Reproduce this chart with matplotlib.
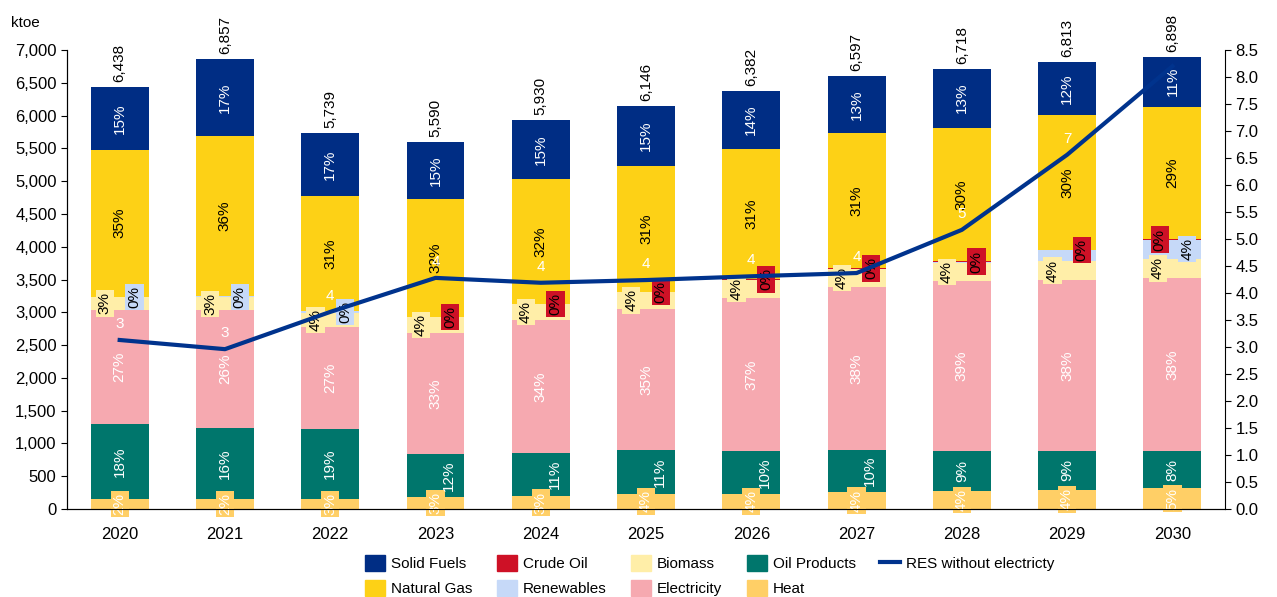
import matplotlib.pyplot as plt
from matplotlib.patches import Patch
from matplotlib.lines import Line2D
import numpy as np

plt.rcParams['font.family'] = ['Liberation Sans', 'DejaVu Sans']
plt.rcParams['font.size'] = 11

years = [2020, 2021, 2022, 2023, 2024, 2025, 2026, 2027, 2028, 2029, 2030]

# ktoe, stacked from bottom to top
heat = [150, 150, 150, 180, 198, 229, 229, 259, 275, 290, 317]
oil_products = [1150, 1090, 1070, 660, 656, 670, 655, 641, 610, 600, 566]
electricity = [1740, 1790, 1560, 1845, 2028, 2151, 2334, 2486, 2592, 2602, 2642]
biomass = [190, 200, 215, 240, 244, 260, 280, 280, 275, 290, 290]
renewables = [10, 15, 20, 0, 0, 0, 0, 0, 20, 168, 290]
crude_oil = [0, 0, 0, 5, 5, 5, 5, 5, 5, 5, 7]
natural_gas = [2240, 2440, 1760, 1800, 1900, 1920, 1990, 2060, 2040, 2054, 2021]
solid_fuels = [958, 1172, 964, 860, 899, 911, 889, 866, 901, 804, 765]

# RES without electricity (right axis)
res_no_elec = [3.13, 2.96, 3.65, 4.28, 4.19, 4.24, 4.31, 4.37, 5.17, 6.56, 8.2]

series = [
    ('Heat', heat, '#FFCF66', 'white'),
    ('Oil Products', oil_products, '#00766C', 'white'),
    ('Electricity', electricity, '#F6A9B0', 'white'),
    ('Biomass', biomass, '#FFEEA8', 'black'),
    ('Renewables', renewables, '#C6D9F8', 'black'),
    ('Crude Oil', crude_oil, '#CE1126', 'black'),
    ('Natural Gas', natural_gas, '#FDD116', 'black'),
    ('Solid Fuels', solid_fuels, '#002D84', 'white'),
]
hidden = {('Renewables', 2028), ('Renewables', 2029)}

fig = plt.figure(figsize=(12.77, 5.97), dpi=100)
ax = fig.add_axes([0.0525, 0.1474, 0.9068, 0.7688])
ax2 = ax.twinx()

x = np.arange(len(years))
totals = np.sum([s[1] for s in series], axis=0)
bottom = np.zeros(len(years))
colors = {}
for name, vals, col, tcol in series:
    vals = np.array(vals, dtype=float)
    colors[name] = col
    ax.bar(x, vals, 0.55, bottom=bottom, color=col, edgecolor='none', zorder=2)
    for i in range(len(years)):
        v = vals[i]
        if v <= 0 or (name, years[i]) in hidden:
            continue
        pct = '{:.0f}%'.format(100 * v / totals[i])
        yc = bottom[i] + v / 2
        xc = x[i]
        box = None
        if name in ('Heat', 'Biomass', 'Renewables', 'Crude Oil'):
            box = dict(facecolor=col, edgecolor='none', pad=1.5)
        if name == 'Biomass':
            xc -= 0.14
        elif name == 'Renewables':
            xc += 0.14
        elif name == 'Crude Oil':
            xc += -0.12 if years[i] == 2030 else 0.14
        elif name == 'Oil Products' and v < 700 and len(pct) > 2:
            xc += 0.13
        ax.text(xc, yc, pct, rotation=90, ha='center', va='center',
                color=tcol, fontsize=11, bbox=box, zorder=5)
    bottom += vals

ax2.plot(x, res_no_elec, color='#00338D', linewidth=3, zorder=4)
for i in range(len(years)):
    ax2.annotate('{:.0f}'.format(res_no_elec[i]), (x[i], res_no_elec[i]),
                 xytext=(0, 9), textcoords='offset pixels',
                 ha='center', va='bottom', color='white', fontsize=11, zorder=5)

for i in range(len(years)):
    ax2.annotate('{:,}'.format(int(totals[i])), (x[i], totals[i] * 8.5 / 7000),
                 xytext=(0, 5), textcoords='offset pixels', rotation=90,
                 ha='center', va='bottom', fontsize=11, zorder=6,
                 bbox=dict(facecolor='white', edgecolor='none', pad=0.5))

ax.set_zorder(1)
ax2.set_zorder(2)
ax2.patch.set_visible(False)

ax.set_xlim(-0.5, len(years) - 0.5)
ax.set_ylim(0, 7000)
ax.set_yticks(np.arange(0, 7001, 500))
ax.set_yticklabels(['{:,}'.format(v) for v in range(0, 7001, 500)])
ax.set_xticks(x)
ax.set_xticklabels([str(y) for y in years])
ax.tick_params(axis='x', length=0, pad=13, labelsize=12)
ax.tick_params(axis='y', length=4, direction='out', labelsize=12)
ax2.set_ylim(0, 8.5)
ax2.set_yticks(np.arange(0, 8.51, 0.5))
ax2.set_yticklabels(['{:.1f}'.format(v) for v in np.arange(0, 8.51, 0.5)])
ax2.tick_params(axis='y', length=4, direction='out', labelsize=12)

for a in (ax, ax2):
    a.spines['top'].set_visible(False)
ax.spines['right'].set_visible(False)

fig.text(0.009, 0.962, 'ktoe', fontsize=11, ha='left', va='center')

handles = [
    Patch(color=colors['Solid Fuels'], label='Solid Fuels'),
    Patch(color=colors['Natural Gas'], label='Natural Gas'),
    Patch(color=colors['Crude Oil'], label='Crude Oil'),
    Patch(color=colors['Renewables'], label='Renewables'),
    Patch(color=colors['Biomass'], label='Biomass'),
    Patch(color=colors['Electricity'], label='Electricity'),
    Patch(color=colors['Oil Products'], label='Oil Products'),
    Patch(color=colors['Heat'], label='Heat'),
    Line2D([0], [0], color='#00338D', linewidth=3, label='RES without electricty'),
]
fig.legend(handles=handles, loc='lower center', bbox_to_anchor=(0.556, -0.022),
           ncol=5, frameon=False, fontsize=11, handlelength=1.3,
           handleheight=1.2, handletextpad=0.4, columnspacing=1.6,
           labelspacing=0.6)

fig.savefig('out.png', dpi=100)
